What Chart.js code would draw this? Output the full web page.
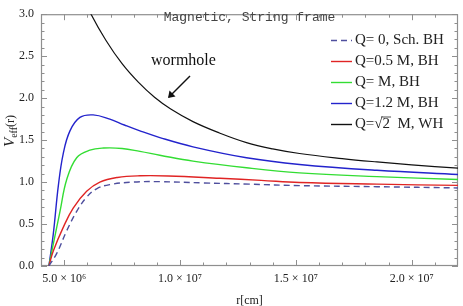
<!DOCTYPE html>
<html>
<head>
<meta charset="utf-8">
<script src="https://cdn.jsdelivr.net/npm/chart.js@4.4.1/dist/chart.umd.min.js"></script>
<style>
  html, body { margin: 0; padding: 0; background: #ffffff; }
  #c { display: block; }
</style>
</head>
<body>
<canvas id="c" width="463" height="306"></canvas>
<script>
// ---- data (r in cm, V_eff dimensionless) ----
const seriesLabels = ['Q= 0, Sch. BH', 'Q=0.5 M, BH', 'Q= M, BH', 'Q=1.2 M, BH', 'Q=\u221A2  M, WH'];

const rSch   = [4.34e6, 4.68e6, 5.11e6, 5.54e6, 5.97e6, 6.40e6, 6.97e6, 7.98e6, 9.13e6, 1.10e7, 1.30e7, 1.516e7, 1.85e7, 2.20e7];
const vSch   = [0, 0.15, 0.42, 0.65, 0.82, 0.92, 0.97, 1.0, 1.005, 0.99, 0.975, 0.958, 0.945, 0.93];

const rQ05   = [4.34e6, 4.53e6, 4.96e6, 5.39e6, 5.97e6, 6.54e6, 7.30e6, 8.27e6, 9.50e6, 1.172e7, 1.35e7, 1.516e7, 1.85e7, 2.20e7];
const vQ05   = [0, 0.18, 0.46, 0.69, 0.89, 1.0, 1.055, 1.075, 1.073, 1.045, 1.02, 0.995, 0.975, 0.96];

const rQ1    = [4.34e6, 4.53e6, 4.82e6, 5.11e6, 5.54e6, 6.11e6, 6.70e6, 7.50e6, 8.27e6, 9.13e6, 1.056e7, 1.287e7, 1.516e7, 1.85e7, 2.20e7];
const vQ1    = [0, 0.26, 0.65, 1.03, 1.29, 1.38, 1.405, 1.40, 1.365, 1.32, 1.25, 1.17, 1.11, 1.065, 1.03];

const rQ12   = [4.34e6, 4.53e6, 4.75e6, 4.96e6, 5.25e6, 5.68e6, 6.25e6, 6.97e6, 7.60e6, 8.27e6, 9.13e6, 1.056e7, 1.287e7, 1.516e7, 1.85e7, 2.20e7];
const vQ12   = [0, 0.38, 0.96, 1.34, 1.61, 1.77, 1.80, 1.75, 1.68, 1.61, 1.53, 1.42, 1.29, 1.21, 1.14, 1.09];

const rWH    = [5.70e6, 6.16e6, 6.80e6, 7.50e6, 8.20e6, 8.90e6, 9.60e6, 1.056e7, 1.17e7, 1.287e7, 1.40e7, 1.516e7, 1.70e7, 1.85e7, 2.00e7, 2.20e7];
const vWH    = [3.28, 3.0, 2.69, 2.41, 2.19, 2.01, 1.87, 1.72, 1.585, 1.47, 1.395, 1.34, 1.28, 1.24, 1.205, 1.165];

const xMajorTicks = [5e6, 1e7, 1.5e7, 2e7];
const yMajorTicks = [0, 0.5, 1.0, 1.5, 2.0, 2.5, 3.0];

const colors = ['#4f4f9e', '#e02424', '#33dd33', '#2323cc', '#111111'];

function pts(rs, vs) { return rs.map((r, i) => ({ x: r, y: vs[i] })); }
const sup = { '0': '\u2070', '1': '\u00B9', '2': '\u00B2', '3': '\u00B3', '4': '\u2074', '5': '\u2075', '6': '\u2076', '7': '\u2077', '8': '\u2078', '9': '\u2079' };
function sciLabel(v) {
  const e = Math.floor(Math.log10(v) + 1e-9);
  const m = v / Math.pow(10, e);
  return m.toFixed(1) + ' \u00D7 10' + String(e).split('').map(d => sup[d]).join('');
}

const SERIF = '"Liberation Serif", "Times New Roman", serif';

const dsList = [
  { label: seriesLabels[0], data: pts(rSch, vSch), borderColor: colors[0], borderDash: [6, 4], borderWidth: 1.4 },
  { label: seriesLabels[1], data: pts(rQ05, vQ05), borderColor: colors[1], borderWidth: 1.4 },
  { label: seriesLabels[2], data: pts(rQ1, vQ1), borderColor: colors[2], borderWidth: 1.4 },
  { label: seriesLabels[3], data: pts(rQ12, vQ12), borderColor: colors[3], borderWidth: 1.4 },
  { label: seriesLabels[4], data: pts(rWH, vWH), borderColor: colors[4], borderWidth: 1.2 }
].map(d => Object.assign(d, { pointRadius: 0, fill: false, tension: 0.4 }));

const framePlugin = {
  id: 'frame',
  beforeDatasetsDraw(chart) {
    const { ctx, chartArea: a, scales: { x, y } } = chart;
    ctx.save();
    ctx.strokeStyle = '#8f8f8f';
    ctx.lineWidth = 1.2;
    ctx.strokeRect(a.left + 0.5, a.top + 0.5, a.right - a.left - 1, a.bottom - a.top - 1);
    ctx.lineWidth = 1;
    ctx.beginPath();
    for (let k = 4; k <= 22; k++) {
      const v = k * 1e6;
      const px = Math.round(x.getPixelForValue(v)) + 0.5;
      if (px < a.left + 1 || px > a.right - 1) continue;
      const len = (k % 5 === 0) ? 6 : 3.5;
      ctx.moveTo(px, a.bottom); ctx.lineTo(px, a.bottom - len);
      ctx.moveTo(px, a.top); ctx.lineTo(px, a.top + len);
    }
    for (let k = 0; k <= 30; k++) {
      const v = k / 10;
      const py = Math.round(y.getPixelForValue(v)) + 0.5;
      const len = (k % 5 === 0) ? 6 : 3.5;
      ctx.moveTo(a.left, py); ctx.lineTo(a.left + len, py);
      ctx.moveTo(a.right, py); ctx.lineTo(a.right - len, py);
    }
    ctx.stroke();
    ctx.restore();
  },
  afterDraw(chart) {
    const { ctx, chartArea: a } = chart;
    ctx.save();
    // plot label
    ctx.fillStyle = '#444';
    ctx.font = '13px "Liberation Mono", "DejaVu Sans Mono", monospace';
    ctx.textBaseline = 'middle';
    ctx.textAlign = 'center';
    ctx.fillText('Magnetic, String frame', (a.left + a.right) / 2, 18);

    // legend
    ctx.textAlign = 'left';
    ctx.font = '15px ' + SERIF;
    chart.data.datasets.forEach((d, i) => {
      const yy = 40 + i * 21;
      ctx.strokeStyle = d.borderColor;
      ctx.lineWidth = 1.4;
      ctx.setLineDash(d.borderDash || []);
      ctx.beginPath();
      ctx.moveTo(331, yy + 0.5); ctx.lineTo(352, yy + 0.5);
      ctx.stroke();
      ctx.setLineDash([]);
      ctx.fillStyle = '#222';
      ctx.fillText(d.label, 355, yy);
    });
    // overline over the 2 in sqrt 2
    {
      const yy = 40 + 4 * 21;
      const pre = ctx.measureText('Q=\u221A').width;
      const w2 = ctx.measureText('2').width;
      ctx.strokeStyle = '#222';
      ctx.lineWidth = 0.8;
      ctx.beginPath();
      ctx.moveTo(355 + pre - 1, yy - 7); ctx.lineTo(355 + pre + w2 + 1, yy - 7);
      ctx.stroke();
    }

    // wormhole annotation
    ctx.fillStyle = '#111';
    ctx.font = '16px ' + SERIF;
    ctx.textAlign = 'left';
    ctx.fillText('wormhole', 151, 61);
    ctx.strokeStyle = '#111';
    ctx.lineWidth = 1.5;
    ctx.beginPath();
    ctx.moveTo(190, 76); ctx.lineTo(169, 97);
    ctx.stroke();
    ctx.beginPath();
    ctx.moveTo(168, 98); ctx.lineTo(169.5, 90.5); ctx.lineTo(175.5, 96.5); ctx.closePath();
    ctx.fillStyle = '#111';
    ctx.fill();

    // y-axis title V_eff(r)
    ctx.translate(10, 131);
    ctx.rotate(-Math.PI / 2);
    ctx.fillStyle = '#222';
    ctx.textBaseline = 'alphabetic';
    const f1 = 'italic 15px ' + SERIF, f2 = '10px ' + SERIF, f3 = '12px ' + SERIF;
    ctx.font = f1; const wV = ctx.measureText('V').width;
    ctx.font = f2; const wE = ctx.measureText('eff').width;
    ctx.font = f3; const wR = ctx.measureText('(r)').width;
    let sx = -(wV + wE + wR) / 2;
    ctx.font = f1; ctx.fillText('V', sx, 4); sx += wV;
    ctx.font = f2; ctx.fillText('eff', sx, 7); sx += wE;
    ctx.font = f3; ctx.fillText('(r)', sx, 4);
    ctx.restore();
  }
};

new Chart(document.getElementById('c'), {
  type: 'line',
  data: { datasets: dsList },
  options: {
    responsive: false,
    animation: false,
    devicePixelRatio: 1,
    layout: { padding: { left: 0, right: 5, top: 7, bottom: 0 } },
    plugins: { legend: { display: false }, tooltip: { enabled: false } },
    scales: {
      x: {
        type: 'linear', min: 4e6, max: 2.2e7,
        afterFit: s => { s.height = 40; },
        afterBuildTicks: s => { s.ticks = xMajorTicks.map(v => ({ value: v })); },
        grid: { display: false, drawTicks: false },
        border: { display: false },
        ticks: { callback: v => sciLabel(v), font: { family: SERIF, size: 12 }, color: '#222', padding: 6, maxRotation: 0, autoSkip: false },
        title: { display: true, text: 'r[cm]', font: { family: SERIF, size: 12, lineHeight: 0.8 }, color: '#222', padding: { top: 0, bottom: 0 } }
      },
      y: {
        type: 'linear', min: 0, max: 3,
        afterFit: s => { s.width = 41; },
        afterBuildTicks: s => { s.ticks = yMajorTicks.map(v => ({ value: v })); },
        grid: { display: false, drawTicks: false },
        border: { display: false },
        ticks: { callback: v => Number(v).toFixed(1), font: { family: SERIF, size: 12 }, color: '#222', padding: 7 }
      }
    }
  },
  plugins: [framePlugin]
});
</script>
</body>
</html>
